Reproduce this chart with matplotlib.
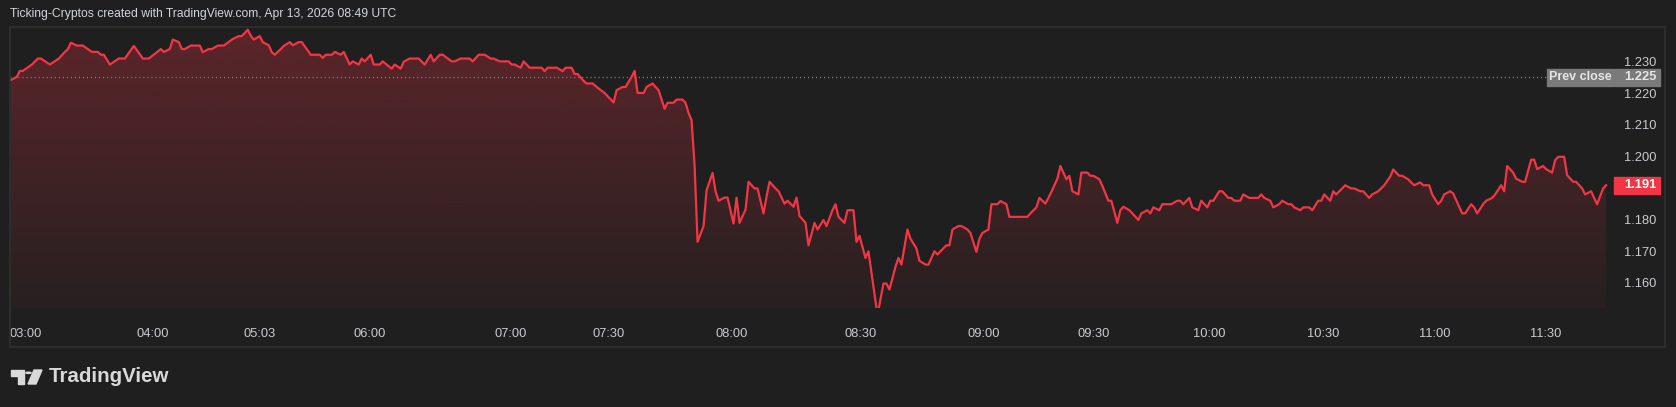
import matplotlib
matplotlib.use("Agg")
import matplotlib.pyplot as plt
import matplotlib.transforms as mtransforms
from matplotlib.patches import Rectangle, Polygon, Circle
import numpy as np

# bar index (position on the time scale) and close price
bar = [0, 2, 3, 4, 7, 9, 10, 13, 16, 18, 19, 20, 22, 24, 27, 29, 30, 31, 33, 36,
       38, 41, 44, 46, 50, 51, 53, 54, 56, 57, 58, 60, 63, 64, 66, 67, 69, 71, 74, 76,
       77, 79, 80, 81, 83, 84, 86, 87, 88, 90, 91, 93, 94, 96, 97, 100, 103, 104, 105, 107,
       108, 110, 111, 113, 114, 116, 117, 118, 120, 121, 123, 124, 127, 128, 130,
       131, 133, 136, 138, 140, 141, 143, 144, 147, 148, 150, 153, 154, 156, 158, 160, 161,
       163, 166, 167, 168, 170, 171, 173, 177, 178, 179, 182, 184, 185, 187, 188, 189, 191,
       192, 194, 196, 198, 199, 201, 202, 204, 205, 207, 208, 209, 211, 212, 214, 215, 216,
       218, 219, 221, 222, 224, 225, 226, 227, 228, 229, 231, 232, 234, 235, 236, 238, 239,
       241, 242, 243, 245, 246, 248, 249, 251, 252, 253, 255, 256, 258, 259, 261, 262, 263,
       265, 266, 268, 269, 271, 272, 274, 275, 276, 278, 279, 281, 282, 283, 285, 286, 288,
       289, 291, 292, 293, 295, 296, 297, 299, 300, 302, 303, 305, 306, 308, 309, 310, 312,
       313, 314, 316, 317, 319, 320, 322, 323, 324, 326, 327, 329, 330, 332, 333, 339, 340,
       342, 343, 345, 346, 347, 349, 350, 352, 353, 354, 356, 357, 359, 360, 361, 363, 364,
       366, 367, 369, 370, 371, 373, 374, 376, 377, 379, 380, 381, 383, 384, 387, 389, 390,
       391, 393, 394, 396, 397,
       399, 400, 401, 403, 404, 406, 407, 408, 410, 411, 413, 416, 417, 418, 420, 421, 423,
       424, 426, 427, 428, 430, 431, 433, 434, 436, 437, 438, 440, 441, 442, 444, 445, 447,
       448, 450, 451, 453, 454, 456, 458, 460, 461, 463, 464, 466, 467, 468, 470, 471, 473,
       474, 476, 477, 478, 480, 481, 482, 484, 485, 487, 488, 489, 491, 492, 494, 495, 497,
       498, 499, 501, 502, 504, 505, 507, 508, 509, 511, 512, 514, 515, 516, 518, 519, 521,
       522, 524, 525, 527, 528, 529, 531, 532]

close = [1.2242, 1.2252, 1.2271, 1.2271, 1.2291, 1.2310, 1.2310, 1.2291, 1.2310, 1.2331,
         1.2340, 1.2360, 1.2351, 1.2351, 1.2331, 1.2331, 1.2322, 1.2322, 1.2291, 1.2310,
         1.2310, 1.2350, 1.2310, 1.2310, 1.2340, 1.2331, 1.2340, 1.2370, 1.2362, 1.2340,
         1.2340, 1.2351, 1.2351, 1.2330, 1.2340, 1.2340, 1.2351, 1.2351, 1.2372, 1.2381,
         1.2381, 1.2401, 1.2382, 1.2370, 1.2381, 1.2362, 1.2352, 1.2330, 1.2322, 1.2340,
         1.2350, 1.2362, 1.2352, 1.2362, 1.2362, 1.2322, 1.2322, 1.2312, 1.2322, 1.2322,
         1.2331, 1.2322, 1.2331, 1.2291, 1.2301, 1.2291, 1.2310, 1.2301, 1.2322, 1.2291,
         1.2291, 1.2301, 1.2278, 1.2291, 1.2278,
         1.2300, 1.2310, 1.2310, 1.2291, 1.2322, 1.2301, 1.2322, 1.2322, 1.2301, 1.2301,
         1.2310, 1.2310, 1.2301, 1.2322, 1.2322, 1.2310, 1.2310, 1.2301, 1.2301, 1.2291,
         1.2291, 1.2281, 1.2301, 1.2281, 1.2281, 1.2270, 1.2281, 1.2281, 1.2270, 1.2281,
         1.2281, 1.2261, 1.2261, 1.2239, 1.2231, 1.2231, 1.2215, 1.2201, 1.2191, 1.2171,
         1.2210, 1.2220, 1.2220, 1.2252, 1.2271, 1.2201, 1.2201, 1.2220, 1.2231, 1.2220,
         1.2210, 1.2151, 1.2170, 1.2170, 1.2180, 1.2180, 1.2170, 1.2138, 1.2115, 1.1974,
         1.1730, 1.1780, 1.1893, 1.1948, 1.1890, 1.1860, 1.1870, 1.1870, 1.1788, 1.1870,
         1.1790, 1.1832, 1.1920, 1.1899, 1.1899, 1.1820, 1.1872, 1.1920, 1.1899, 1.1890,
         1.1851, 1.1860, 1.1841, 1.1870, 1.1812,
         1.1790, 1.1719, 1.1790, 1.1769, 1.1799, 1.1780, 1.1830, 1.1849, 1.1809, 1.1790,
         1.1830, 1.1830, 1.1730, 1.1749, 1.1679, 1.1700, 1.1566, 1.1498, 1.1598, 1.1598,
         1.1579, 1.1651, 1.1679, 1.1658, 1.1769, 1.1740, 1.1709, 1.1670, 1.1658, 1.1658,
         1.1700, 1.1690, 1.1700, 1.1719, 1.1719, 1.1769, 1.1780, 1.1780, 1.1769, 1.1758,
         1.1698, 1.1740, 1.1758, 1.1769, 1.1849, 1.1849, 1.1859, 1.1849, 1.1809, 1.1809,
         1.1820, 1.1839, 1.1869, 1.1851, 1.1869, 1.1888, 1.1930, 1.1970, 1.1928, 1.1939,
         1.1890, 1.1880, 1.1949, 1.1949, 1.1939, 1.1939, 1.1928, 1.1907, 1.1860, 1.1860,
         1.1790, 1.1830, 1.1841, 1.1830, 1.1820, 1.1799, 1.1820, 1.1830, 1.1820, 1.1839,
         1.1830, 1.1849, 1.1849, 1.1860, 1.1860, 1.1849, 1.1869, 1.1839, 1.1830, 1.1860,
         1.1839, 1.1860, 1.1860, 1.1890, 1.1890, 1.1869, 1.1869, 1.1860, 1.1860, 1.1880,
         1.1869, 1.1869, 1.1880, 1.1869, 1.1860, 1.1839, 1.1849, 1.1860, 1.1849, 1.1849,
         1.1839, 1.1830, 1.1839, 1.1839, 1.1830, 1.1860, 1.1860, 1.1880, 1.1860, 1.1890,
         1.1880, 1.1899, 1.1909, 1.1899, 1.1899, 1.1890, 1.1890, 1.1869, 1.1880, 1.1890,
         1.1909, 1.1936, 1.1959, 1.1939, 1.1939, 1.1928, 1.1918, 1.1909, 1.1918, 1.1909,
         1.1909, 1.1880, 1.1849, 1.1860, 1.1880, 1.1890, 1.1883, 1.1862, 1.1820, 1.1820,
         1.1849, 1.1839, 1.1820, 1.1849, 1.1860, 1.1869, 1.1880, 1.1909, 1.1890, 1.1970,
         1.1949, 1.1930, 1.1920, 1.1920, 1.1990, 1.1990, 1.1960, 1.1970, 1.1960, 1.1949,
         1.1988, 1.1999, 1.1999, 1.1941, 1.1920, 1.1920, 1.1899, 1.1880, 1.1890, 1.1869,
         1.1849, 1.1899, 1.1909]

prev_close = 1.225

time_ticks = [4.9, 47.3, 83, 119.8, 166.7, 199.4, 240.5, 283.4, 324.3, 361.2,
              399.7, 437.8, 475, 511.7]
time_labels = ['03:00', '04:00', '05:03', '06:00', '07:00', '07:30', '08:00', '08:30',
               '09:00', '09:30', '10:00', '10:30', '11:00', '11:30']
price_ticks = [1.160, 1.170, 1.180, 1.200, 1.210, 1.220, 1.230]

header = 'Ticking-Cryptos created with TradingView.com, Apr 13, 2026 08:49 UTC'

BG = '#1f1f1f'
RED = '#f23645'
TXT = '#c8cad0'
W, H = 1676, 407

plt.rcParams['font.family'] = ['Liberation Sans', 'DejaVu Sans']

fig = plt.figure(figsize=(W / 100, H / 100), dpi=100, facecolor=BG)


def fx(px):
    return px / W


def fy(py):
    return 1 - py / H


# chart pane
ax = fig.add_axes([fx(10), fy(308), fx(1613 - 10), (308 - 27) / H])
ax.set_facecolor('none')
for s in ax.spines.values():
    s.set_visible(False)

x0, x1 = -0.3, 534.3
y0, y1 = 1.15206, 1.24098

# gradient area under the line
fill = ax.fill_between(bar, close, y0, color='none', lw=0)
grad = np.zeros((256, 1, 4))
grad[:, :, :3] = matplotlib.colors.to_rgb(RED)
grad[:, 0, 3] = np.linspace(0.29, 0.04, 256)
im = ax.imshow(grad, extent=[x0, x1, y0, y1], aspect='auto', origin='upper', zorder=1)
im.set_clip_path(fill.get_paths()[0], transform=ax.transData)

# previous close dotted line
ax.plot([x0, x1], [prev_close, prev_close], color='#8a8a8a', lw=1,
        dashes=(0.7, 2.2), zorder=2)

ax.plot(bar, close, color=RED, lw=1.6, zorder=3, solid_joinstyle='round')

ax.set_xlim(x0, x1)
ax.set_ylim(y0, y1)

ax.set_xticks(time_ticks)
ax.set_xticklabels(time_labels)
ax.yaxis.tick_right()
ax.set_yticks(price_ticks)
ax.set_yticklabels([f'{v:.3f}' for v in price_ticks])
ax.tick_params(axis='x', length=0, pad=14.5, labelsize=9.3, labelcolor=TXT)
ax.tick_params(axis='y', length=0, pad=8, labelsize=9.3, labelcolor=TXT)

# price axis labels
tr = mtransforms.blended_transform_factory(fig.transFigure, ax.transData)
hh = 8.5 / 3160
ax.add_patch(Rectangle((fx(1547), prev_close - hh), fx(66), 2 * hh, transform=tr,
                       color='#7a7a7a', clip_on=False, zorder=5))
ax.add_patch(Rectangle((fx(1614), prev_close - hh), fx(46), 2 * hh, transform=tr,
                       color='#7a7a7a', clip_on=False, zorder=5))
ax.text(fx(1580), prev_close, 'Prev close', transform=tr, ha='center', va='center',
        color='#e6e6e6', fontsize=9, fontweight='bold', zorder=6)
ax.text(fx(1624), prev_close, f'{prev_close:.3f}', transform=tr, ha='left', va='center',
        color='#e6e6e6', fontsize=9.3, fontweight='bold', zorder=6)
last = close[-1]
ax.add_patch(Rectangle((fx(1614), last - hh), fx(46), 2 * hh, transform=tr,
                       color=RED, clip_on=False, zorder=5))
ax.text(fx(1624), last, f'{last:.3f}', transform=tr, ha='left', va='center',
        color='white', fontsize=9.3, fontweight='bold', zorder=6)

# frame around chart
fig.add_artist(Rectangle((fx(10), fy(347)), fx(1655), 320 / H, transform=fig.transFigure,
                         fill=False, ec='#303030', lw=1.2))

fig.text(fx(10), fy(14), header, color='#d1d4dc', fontsize=8.75, ha='left', va='center')

# TradingView logo
logo = '#d9d9d9'
fig.add_artist(Polygon([(fx(11), fy(370)), (fx(24), fy(370)), (fx(24), fy(384)),
                        (fx(18), fy(384)), (fx(18), fy(375.5)), (fx(11), fy(375.5))],
                       closed=True, color=logo, transform=fig.transFigure))
fig.add_artist(Circle((fx(28.5), fy(372.8)), fx(2.6), color=logo, transform=fig.transFigure))
fig.add_artist(Polygon([(fx(34), fy(370)), (fx(42), fy(370)), (fx(36), fy(384)),
                        (fx(28), fy(384))], closed=True, color=logo,
                       transform=fig.transFigure))
fig.text(fx(49), fy(377), 'TradingView', color=logo, fontsize=14.8, fontweight='bold',
         ha='left', va='center')

fig.savefig('out.png', dpi=100, facecolor=BG)
